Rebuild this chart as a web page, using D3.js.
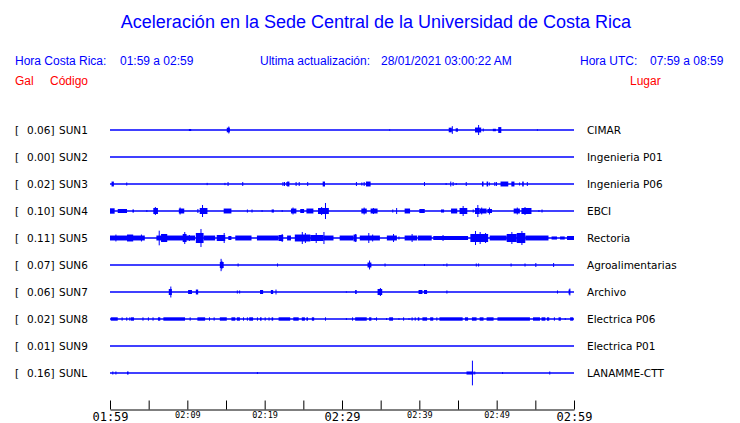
<!DOCTYPE html>
<html><head><meta charset="utf-8">
<script src="https://cdn.jsdelivr.net/npm/d3@7"></script>
<style>body{margin:0;background:#fff} svg{display:block}</style>
</head><body>
<svg id="c" width="740" height="423"></svg>
<script>
// Stations
const codes  = ["SUN1","SUN2","SUN3","SUN4","SUN5","SUN6","SUN7","SUN8","SUN9","SUNL"];
const peaks  = ["0.06","0.00","0.02","0.10","0.11","0.07","0.06","0.02","0.01","0.16"];
const places = ["CIMAR","Ingenieria P01","Ingenieria P06","EBCI","Rectoria","Agroalimentarias","Archivo","Electrica P06","Electrica P01","LANAMME-CTT"];

// Envelope bursts per station: [start minute, end minute, half amplitude (Gal)], minutes from 01:59
const sun1 = [[10.2,10.5,0.013],[15.1,15.5,0.03],[15.3,15.4,0.045],[36.1,36.2,0.009],[43.8,44.2,0.03],[44.2,44.3,0.05],[44.7,45.0,0.022],[47.2,48.0,0.032],[47.6,47.7,0.065],[48.2,48.3,0.02],[49.5,49.9,0.016],[50.2,50.6,0.038],[55.2,55.3,0.01]];
const sun2 = [];
const sun3 = [[0.2,0.5,0.032],[2.1,2.2,0.02],[12.5,12.6,0.015],[14.8,14.9,0.015],[15.2,15.3,0.026],[17.1,17.2,0.026],[22.3,22.4,0.026],[22.5,22.6,0.026],[22.8,22.9,0.026],[22.9,23.2,0.032],[24.0,24.1,0.026],[24.4,24.5,0.026],[25.5,25.6,0.026],[27.5,27.8,0.032],[31.8,31.9,0.026],[32.5,32.6,0.02],[32.8,32.9,0.026],[33.1,33.7,0.032],[40.6,40.7,0.026],[43.4,43.5,0.013],[44.0,44.1,0.032],[44.3,44.4,0.026],[44.7,44.8,0.013],[46.0,46.1,0.026],[48.1,48.3,0.032],[48.7,48.9,0.032],[49.0,49.1,0.02],[49.7,49.8,0.026],[49.9,50.0,0.026],[50.5,51.5,0.032],[51.9,52.3,0.032],[52.9,53.0,0.02],[53.3,53.5,0.032],[53.9,54.0,0.026]];
const sun4 = [[0.0,0.6,0.035],[1.0,2.2,0.026],[2.9,3.1,0.02],[4.7,4.8,0.013],[5.6,6.2,0.039],[5.8,5.9,0.052],[8.9,9.6,0.032],[9.0,9.1,0.045],[11.3,11.4,0.026],[11.6,12.6,0.039],[11.9,12.0,0.078],[14.7,15.7,0.032],[17.7,17.8,0.02],[18.3,18.4,0.02],[19.6,19.7,0.013],[20.9,21.2,0.02],[22.2,22.3,0.013],[23.4,24.1,0.032],[23.6,23.7,0.045],[24.6,25.1,0.026],[25.4,26.3,0.032],[26.9,28.3,0.039],[27.3,27.4,0.052],[27.8,27.9,0.104],
  [32.5,33.2,0.032],[32.8,32.9,0.045],[33.7,34.6,0.032],[34.0,34.1,0.039],[36.5,36.6,0.02],[37.0,37.1,0.039],[38.1,38.8,0.032],[40.0,40.7,0.026],[42.8,43.2,0.02],[44.1,44.9,0.032],[45.2,46.2,0.039],[45.6,45.7,0.065],[46.9,47.0,0.02],[47.2,47.8,0.039],[47.5,47.6,0.078],[47.8,48.7,0.032],[48.0,48.1,0.045],[48.8,49.4,0.026],[49.0,49.1,0.045],[52.2,53.0,0.032],[52.6,52.7,0.045],[53.2,54.5,0.039],[53.6,53.7,0.052],[55.4,55.5,0.013],[55.8,55.9,0.02]];
const sun5 = [[0.0,4.5,0.032],[0.7,0.8,0.045],[2.2,3.0,0.045],[4.0,4.1,0.045],[6.0,11.0,0.032],[6.3,6.4,0.095],[6.6,7.4,0.052],[9.4,9.9,0.052],[9.6,9.7,0.078],[10.2,10.3,0.039],[11.1,12.1,0.065],[11.7,11.8,0.117],[12.1,13.6,0.032],[13.8,14.9,0.039],[14.7,14.8,0.065],[15.3,15.7,0.026],[16.2,18.3,0.032],[19.0,21.8,0.032],[21.8,22.4,0.039],[22.2,22.3,0.052],[22.9,23.4,0.032],[23.9,25.9,0.045],[24.8,24.9,0.078],[25.2,25.3,0.065],[25.9,27.6,0.039],[26.6,26.7,0.065],[27.6,27.7,0.078],[27.6,28.9,0.032],
  [29.7,31.5,0.032],[31.5,31.9,0.045],[31.7,31.8,0.052],[32.3,34.9,0.032],[33.4,33.5,0.065],[33.9,34.0,0.045],[35.8,37.1,0.032],[36.6,36.7,0.052],[37.3,37.4,0.02],[38.1,39.7,0.032],[39.0,39.1,0.052],[39.8,41.6,0.032],[41.8,46.3,0.026],[43.0,43.1,0.039],[46.6,48.9,0.052],[47.2,47.3,0.091],[47.8,47.9,0.078],[48.5,48.6,0.065],[49.1,51.3,0.032],[51.3,52.6,0.052],[51.9,52.0,0.078],[52.6,53.7,0.065],[53.2,53.3,0.091],[53.7,56.7,0.032],[57.1,57.8,0.02],[58.2,58.8,0.02],[59.1,60.0,0.026]];
const sun6 = [[14.2,14.7,0.039],[14.3,14.4,0.08],[14.4,14.5,0.055],[16.5,16.6,0.02],[21.6,21.7,0.02],[33.3,33.8,0.032],[33.5,33.6,0.058],[35.5,35.6,0.02],[40.6,40.7,0.013],[43.1,43.2,0.009],[43.5,43.6,0.02],[47.3,47.4,0.02],[47.6,47.7,0.02],[51.8,51.9,0.02],[53.6,53.7,0.02],[55.0,55.1,0.026],[57.3,57.4,0.026]];
const sun7 = [[7.6,8.0,0.039],[7.8,7.9,0.071],[10.1,10.6,0.026],[11.1,11.4,0.032],[16.4,16.5,0.02],[16.7,16.8,0.02],[19.4,19.8,0.026],[20.8,21.1,0.026],[21.4,21.5,0.032],[30.5,30.6,0.009],[31.7,31.9,0.026],[34.6,35.2,0.039],[34.9,35.0,0.052],[39.9,40.4,0.026],[40.6,41.0,0.026],[43.5,43.6,0.02],[57.8,57.9,0.02],[59.3,59.5,0.032],[59.4,59.5,0.045]];
const sun8 = [[0.1,1.0,0.022],[1.5,1.6,0.022],[2.1,2.2,0.022],[2.5,2.6,0.022],[2.7,3.1,0.022],[4.2,4.3,0.022],[4.9,5.0,0.022],[5.5,5.6,0.022],[6.2,6.5,0.022],[6.9,9.7,0.022],[10.3,10.4,0.022],[11.3,12.3,0.022],[12.8,12.9,0.022],[13.4,13.5,0.022],[14.2,15.1,0.022],[15.7,16.2,0.022],[16.4,16.8,0.022],[17.2,17.3,0.022],[17.7,17.8,0.022],[18.0,18.5,0.022],[19.0,19.1,0.022],[19.4,19.6,0.022],[20.0,20.1,0.022],[20.5,20.6,0.022],[20.9,21.1,0.022],[21.8,23.3,0.022],[23.7,24.4,0.022],[24.8,25.2,0.022],[25.4,25.6,0.022],[26.1,26.4,0.022],[27.8,27.9,0.022],
  [30.5,30.6,0.013],[31.3,31.4,0.022],[31.7,33.2,0.022],[33.5,33.8,0.022],[34.2,34.3,0.013],[34.4,34.5,0.022],[35.7,35.8,0.013],[36.1,36.6,0.022],[37.3,37.4,0.013],[37.9,38.0,0.022],[38.6,38.7,0.013],[39.0,39.1,0.022],[39.4,39.5,0.022],[39.8,40.0,0.022],[40.4,41.0,0.022],[41.4,41.8,0.022],[42.2,42.3,0.022],[42.6,45.6,0.022],[45.9,46.3,0.022],[46.8,47.4,0.022],[47.8,48.3,0.022],[48.7,49.6,0.022],[50.1,54.3,0.022],[54.7,55.6,0.022],[55.8,56.3,0.022],[56.5,56.8,0.022],[57.4,57.5,0.022],[58.0,58.3,0.022],[58.8,58.9,0.013],[59.5,59.9,0.022]];
const sun9 = [];
const sunl = [[0.3,0.4,0.02],[0.7,0.8,0.02],[2.2,2.4,0.02],[19.0,19.1,0.013],[46.1,47.0,0.02],[46.8,46.9,0.16],[47.1,47.2,0.02],[50.7,50.8,0.013],[56.8,56.9,0.02]];
const traces = [sun1,sun2,sun3,sun4,sun5,sun6,sun7,sun8,sun9,sunl];

// Time axis
const tickMinutes = [0,5,10,15,20,25,30,35,40,45,50,55,60];
const tickLabels  = ["01:59","","02:09","","02:19","","02:29","","02:39","","02:49","","02:59"];
const bigLabels   = ["01:59","02:29","02:59"];

const BLUE = "#0000ff", RED = "#ff0000";
const sans = "'Liberation Sans', Arial, sans-serif";
const dv = "'DejaVu Sans', sans-serif";

const svg = d3.select("#c");
const x = d3.scaleLinear().domain([0,60]).range([110,574]);
const row = d3.scalePoint().domain(codes).range([130,373]);
const amp = d3.scaleLinear().domain([0,0.175]).range([0,13.5]);

// Title & header
svg.append("text").attr("x",376).attr("y",28).attr("text-anchor","middle")
  .style("font-family",sans).style("font-size","18px").attr("fill",BLUE)
  .text("Aceleración en la Sede Central de la Universidad de Costa Rica");

const hdr = [
  ["Hora Costa Rica:",15,65,BLUE],["01:59 a 02:59",120,65,BLUE],
  ["Ultima actualización:",260,65,BLUE],["28/01/2021 03:00:22 AM",381,65,BLUE],
  ["Hora UTC:",580,65,BLUE],["07:59 a 08:59",650,65,BLUE],
  ["Gal",15,85,RED],["Código",50,85,RED],["Lugar",630,85,RED]
];
svg.selectAll("text.hdr").data(hdr).join("text").attr("class","hdr")
  .attr("x",d=>d[1]).attr("y",d=>d[2]).attr("fill",d=>d[3])
  .style("font-family",sans).style("font-size","12px").text(d=>d[0]);

// Rows
codes.forEach((c,i)=>{
  const g = svg.append("g").attr("transform",`translate(0,${row(c)})`);
  g.append("line").attr("x1",x(0)).attr("x2",x(60)).attr("y1",0).attr("y2",0)
    .attr("stroke",BLUE).attr("stroke-width",1.5);
  g.selectAll("rect").data(traces[i]).join("rect")
    .attr("x",d=>x(d[0])).attr("width",d=>Math.max(1,x(d[1])-x(d[0])))
    .attr("y",d=>-amp(d[2])).attr("height",d=>2*amp(d[2])).attr("fill",BLUE);
  const t = g.append("g").style("font-family",dv).style("font-size","10.5px").attr("fill","#000");
  t.append("text").attr("x",15).attr("y",4).text("[");
  t.append("text").attr("x",27).attr("y",4).text(peaks[i]+"]");
  t.append("text").attr("x",59).attr("y",4).text(c);
  t.append("text").attr("x",587).attr("y",4).text(places[i]);
});

// Axis
const isBig = d=>bigLabels.includes(tickLabels[tickMinutes.indexOf(d)]);
const axis = d3.axisBottom(x).tickValues(tickMinutes)
  .tickFormat(d=>tickLabels[tickMinutes.indexOf(d)])
  .tickSizeInner(-9).tickSizeOuter(0);
const ga = svg.append("g").attr("transform","translate(0,409.5)").call(axis);
ga.select(".domain").attr("stroke","#000");
ga.selectAll(".tick line").attr("stroke","#000");
ga.selectAll(".tick text").attr("dy",null).attr("fill","#000")
  .style("font-family","'DejaVu Sans Mono', monospace")
  .attr("y",d=>isBig(d) ? 11 : 8.5)
  .style("font-size",d=>isBig(d) ? "12px" : "8.5px");
</script>
</body></html>
